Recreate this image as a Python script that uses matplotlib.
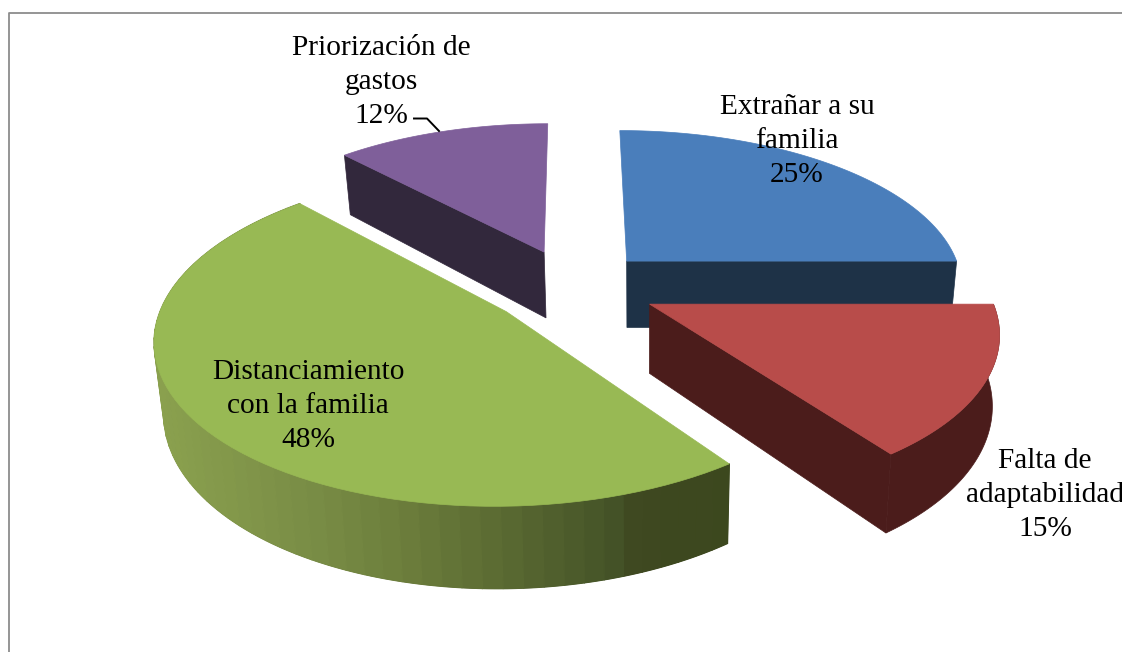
#!/usr/bin/env python3
# coding=utf-8
import numpy as np
from matplotlib import pyplot as plt
from matplotlib.patches import Polygon

# data
labels = ['Extrañar a su\nfamilia', 'Falta de\nadaptabilidad',
          'Distanciamiento\ncon la familia', 'Priorización de\ngastos']
shares = [25, 15, 48, 12]
top_colors = ['#4a7ebb', '#b84c4a', '#98b954', '#7f5f9a']
side_colors = ['#1e3247', '#4b1c1b', '#3e4a1e', '#32283c']
label_pos = [(797, 141), (1045, 495), (308, 406), (381, 82)]
explode = [0.23, 0.25, 0.25, 0.24]

# green wall shading by pixel x
shade_x = [160, 300, 400, 500, 625, 634, 730]
shade_r = [138, 122, 108, 90, 66, 62, 60]
shade_g = [160, 142, 126, 106, 80, 72, 72]
shade_b = [78, 70, 60, 50, 38, 32, 30]

# fake 3d view: ground plane -> pixels
X0, Y0, A, B, P = 573, 286, 338, 157, 0.15
DEPTH = 68
XV = 640


def project(x, y, low=False):
    w = 1 + P * y
    px = X0 + A * x / w
    py = Y0 - B * y / w
    if low:
        py = py + DEPTH / w
        px = px + (XV - px) * 0.02
    return px, py


def rim(a1, a2, ex, ey, low=False, n=80):
    ang = np.linspace(a1, a2, n)
    return np.column_stack(project(np.cos(ang) + ex, np.sin(ang) + ey, low))


fig = plt.figure(figsize=(11.22, 6.52), dpi=100)
ax = fig.add_axes([0, 0, 1, 1])
ax.set_xlim(0, 1122)
ax.set_ylim(652, 0)
ax.axis('off')

# chart frame
ax.plot([9.5, 9.5, 1122], [652, 12.5, 12.5], color='#8c8c8c', lw=1.3)

# wedge angles run clockwise from the top
bounds = np.pi / 2 - 2 * np.pi * np.cumsum([0] + shares) / sum(shares)
wedges = []
for i in range(len(shares)):
    a1, a2 = bounds[i], bounds[i + 1]
    mid = (a1 + a2) / 2
    wedges.append((a1, a2, explode[i] * np.cos(mid), explode[i] * np.sin(mid)))

# back to front: blue, purple, green, red
for i in [0, 3, 2, 1]:
    a1, a2, ex, ey = wedges[i]
    # cut edge facing the viewer
    if i == 0 or i == 1:
        edge = a2
    elif i == 3:
        edge = a1
    else:
        edge = None
    if edge is not None:
        top = np.array([project(ex, ey), project(np.cos(edge) + ex, np.sin(edge) + ey)])
        low = np.array([project(ex, ey, True), project(np.cos(edge) + ex, np.sin(edge) + ey, True)])
        ax.add_patch(Polygon(np.vstack([top, low[::-1]]), fc=side_colors[i], ec=side_colors[i], lw=0.5))
    # outer wall
    if i == 1 or i == 2:
        up = rim(a1, a2, ex, ey)
        dn = rim(a1, a2, ex, ey, True)
        ax.add_patch(Polygon(np.vstack([up, dn[::-1]]), fc=side_colors[i], ec=side_colors[i], lw=0.5))
    if i == 2:
        # banded shading, light on the left and dark on the right
        steps = np.linspace(a1, a2, 60)
        for k in range(len(steps) - 1):
            up = rim(steps[k], steps[k + 1], ex, ey, n=6)
            dn = rim(steps[k], steps[k + 1], ex, ey, True, n=6)
            xm = up[:, 0].mean()
            col = (np.interp(xm, shade_x, shade_r) / 255,
                   np.interp(xm, shade_x, shade_g) / 255,
                   np.interp(xm, shade_x, shade_b) / 255)
            ax.add_patch(Polygon(np.vstack([up, dn[::-1]]), fc=col, ec=col, lw=1.0))
    # top face
    face = np.vstack([[project(ex, ey)], rim(a1, a2, ex, ey)])
    ax.add_patch(Polygon(face, fc=top_colors[i], ec=top_colors[i], lw=0.5))

for i in range(len(shares)):
    ax.text(label_pos[i][0], label_pos[i][1], '%s\n%d%%' % (labels[i], shares[i]),
            family='Liberation Serif', fontsize=21.2, ha='center', va='center',
            linespacing=1.41, color='black')

# leader line of the small slice
ax.plot([414, 427, 439], [118.5, 118.5, 131], color='black', lw=1.4)

fig.savefig('out.png', dpi=100)
